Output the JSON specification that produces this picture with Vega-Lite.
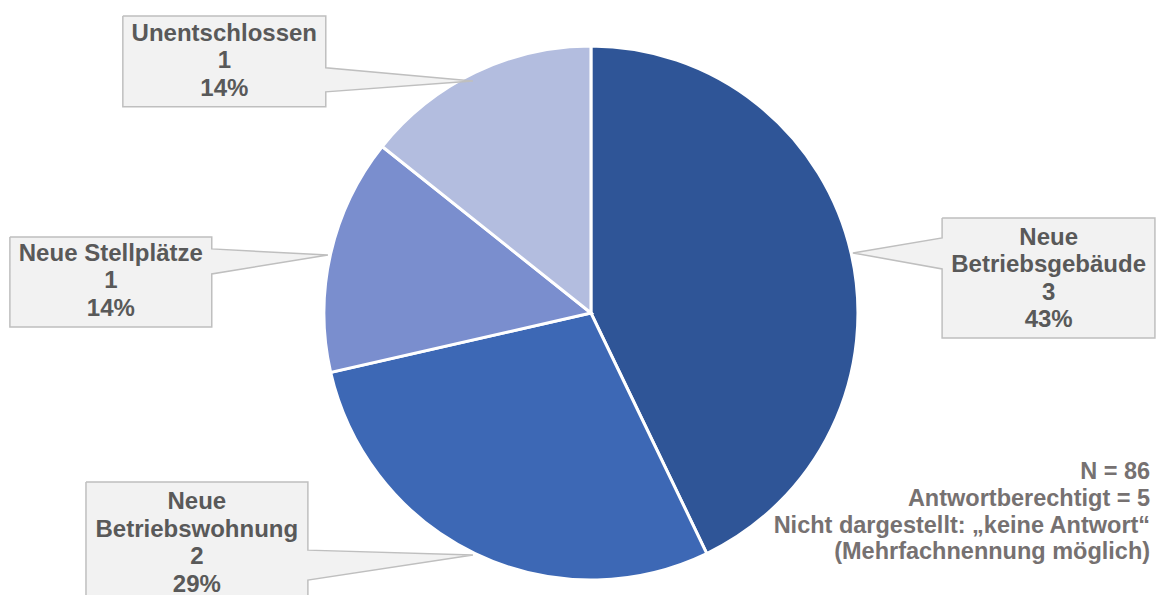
{
  "$schema": "https://vega.github.io/schema/vega-lite/v6.json",
  "width": 1160,
  "height": 595,
  "autosize": "none",
  "padding": 0,
  "background": "white",
  "config": {"view": {"stroke": null}},
  "datasets": {
    "slices": [
      {"kategorie": "Neue Betriebsgebäude", "anzahl": 3, "reihenfolge": 1},
      {"kategorie": "Neue Betriebswohnung", "anzahl": 2, "reihenfolge": 2},
      {"kategorie": "Neue Stellplätze", "anzahl": 1, "reihenfolge": 3},
      {"kategorie": "Unentschlossen", "anzahl": 1, "reihenfolge": 4}
    ],
    "callouts": [
      {"box": "U", "i": 1, "u": -175.3, "v": 111.2},
      {"box": "U", "i": 2, "u": -99.3, "v": 111.2},
      {"box": "U", "i": 3, "u": -99.3, "v": 91.8},
      {"box": "U", "i": 4, "u": -44.2, "v": 86.9},
      {"box": "U", "i": 5, "u": -99.3, "v": 82.8},
      {"box": "U", "i": 6, "u": -99.3, "v": 77.2},
      {"box": "U", "i": 7, "u": -175.3, "v": 77.2},
      {"box": "U", "i": 8, "u": -175.3, "v": 111.2},
      {"box": "S", "i": 1, "u": -217.6, "v": 28.5},
      {"box": "S", "i": 2, "u": -142.0, "v": 28.5},
      {"box": "S", "i": 3, "u": -142.0, "v": 24.0},
      {"box": "S", "i": 4, "u": -98.5, "v": 21.7},
      {"box": "S", "i": 5, "u": -142.0, "v": 14.6},
      {"box": "S", "i": 6, "u": -142.0, "v": -5.2},
      {"box": "S", "i": 7, "u": -217.6, "v": -5.2},
      {"box": "S", "i": 8, "u": -217.6, "v": 28.5},
      {"box": "G", "i": 1, "u": 131.5, "v": 35.6},
      {"box": "G", "i": 2, "u": 211.2, "v": 35.6},
      {"box": "G", "i": 3, "u": 211.2, "v": -9.4},
      {"box": "G", "i": 4, "u": 131.5, "v": -9.4},
      {"box": "G", "i": 5, "u": 131.5, "v": 16.5},
      {"box": "G", "i": 6, "u": 98.1, "v": 22.5},
      {"box": "G", "i": 7, "u": 131.5, "v": 28.1},
      {"box": "G", "i": 8, "u": 131.5, "v": 35.6},
      {"box": "W", "i": 1, "u": -189.1, "v": -63.3},
      {"box": "W", "i": 2, "u": -106.0, "v": -63.3},
      {"box": "W", "i": 3, "u": -106.0, "v": -88.8},
      {"box": "W", "i": 4, "u": -44.2, "v": -90.6},
      {"box": "W", "i": 5, "u": -106.0, "v": -100.0},
      {"box": "W", "i": 6, "u": -106.0, "v": -109.4},
      {"box": "W", "i": 7, "u": -189.1, "v": -109.4},
      {"box": "W", "i": 8, "u": -189.1, "v": -63.3}
    ],
    "labels": [
      {"u": -137.3, "v": 104.5, "label": "Unentschlossen\n1\n14%"},
      {"u": -179.8, "v": 22.1, "label": "Neue Stellplätze\n1\n14%"},
      {"u": 171.4, "v": 28.1, "label": "Neue\nBetriebsgebäude\n3\n43%"},
      {"u": -147.6, "v": -70.8, "label": "Neue\nBetriebswohnung\n2\n29%"}
    ],
    "notes": [
      {"u": 209.4, "v": -59.6, "label": "N = 86\nAntwortberechtigt = 5\nNicht dargestellt: „keine Antwort“\n(Mehrfachnennung möglich)"}
    ]
  },
  "layer": [
    {
      "data": {"name": "slices"},
      "mark": {"type": "arc", "outerRadius": 267, "stroke": "white", "strokeWidth": 3},
      "encoding": {
        "theta": {"field": "anzahl", "type": "quantitative", "stack": true},
        "order": {"field": "reihenfolge", "type": "quantitative"},
        "color": {
          "field": "kategorie",
          "type": "nominal",
          "scale": {
            "domain": ["Neue Betriebsgebäude", "Neue Betriebswohnung", "Neue Stellplätze", "Unentschlossen"],
            "range": ["#2F5597", "#3D68B5", "#7A8ECE", "#B3BDDF"]
          },
          "legend": null
        },
        "x": {"datum": 0, "type": "quantitative", "scale": {"domain": [-221.3, 213.1], "nice": false, "zero": false}, "axis": null},
        "y": {"datum": 0, "type": "quantitative", "scale": {"domain": [-105.6, 117.2], "nice": false, "zero": false}, "axis": null}
      }
    },
    {
      "data": {"name": "callouts"},
      "mark": {"type": "line", "fill": "#F2F2F2", "stroke": "#BFBFBF", "strokeWidth": 1.5, "clip": true, "strokeJoin": "miter"},
      "encoding": {
        "x": {"field": "u", "type": "quantitative", "scale": {"domain": [-221.3, 213.1], "nice": false, "zero": false}, "axis": null},
        "y": {"field": "v", "type": "quantitative", "scale": {"domain": [-105.6, 117.2], "nice": false, "zero": false}, "axis": null},
        "detail": {"field": "box", "type": "nominal"},
        "order": {"field": "i", "type": "quantitative"}
      }
    },
    {
      "data": {"name": "labels"},
      "mark": {"type": "text", "align": "center", "baseline": "middle", "lineBreak": "\n", "lineHeight": 27.5, "font": "Liberation Sans", "fontSize": 24, "fontWeight": "bold", "color": "#595959"},
      "encoding": {
        "x": {"field": "u", "type": "quantitative"},
        "y": {"field": "v", "type": "quantitative"},
        "text": {"field": "label", "type": "nominal"}
      }
    },
    {
      "data": {"name": "notes"},
      "mark": {"type": "text", "align": "right", "baseline": "middle", "lineBreak": "\n", "lineHeight": 26.7, "font": "Liberation Sans", "fontSize": 23.5, "fontWeight": "bold", "color": "#767171"},
      "encoding": {
        "x": {"field": "u", "type": "quantitative"},
        "y": {"field": "v", "type": "quantitative"},
        "text": {"field": "label", "type": "nominal"}
      }
    }
  ]
}
